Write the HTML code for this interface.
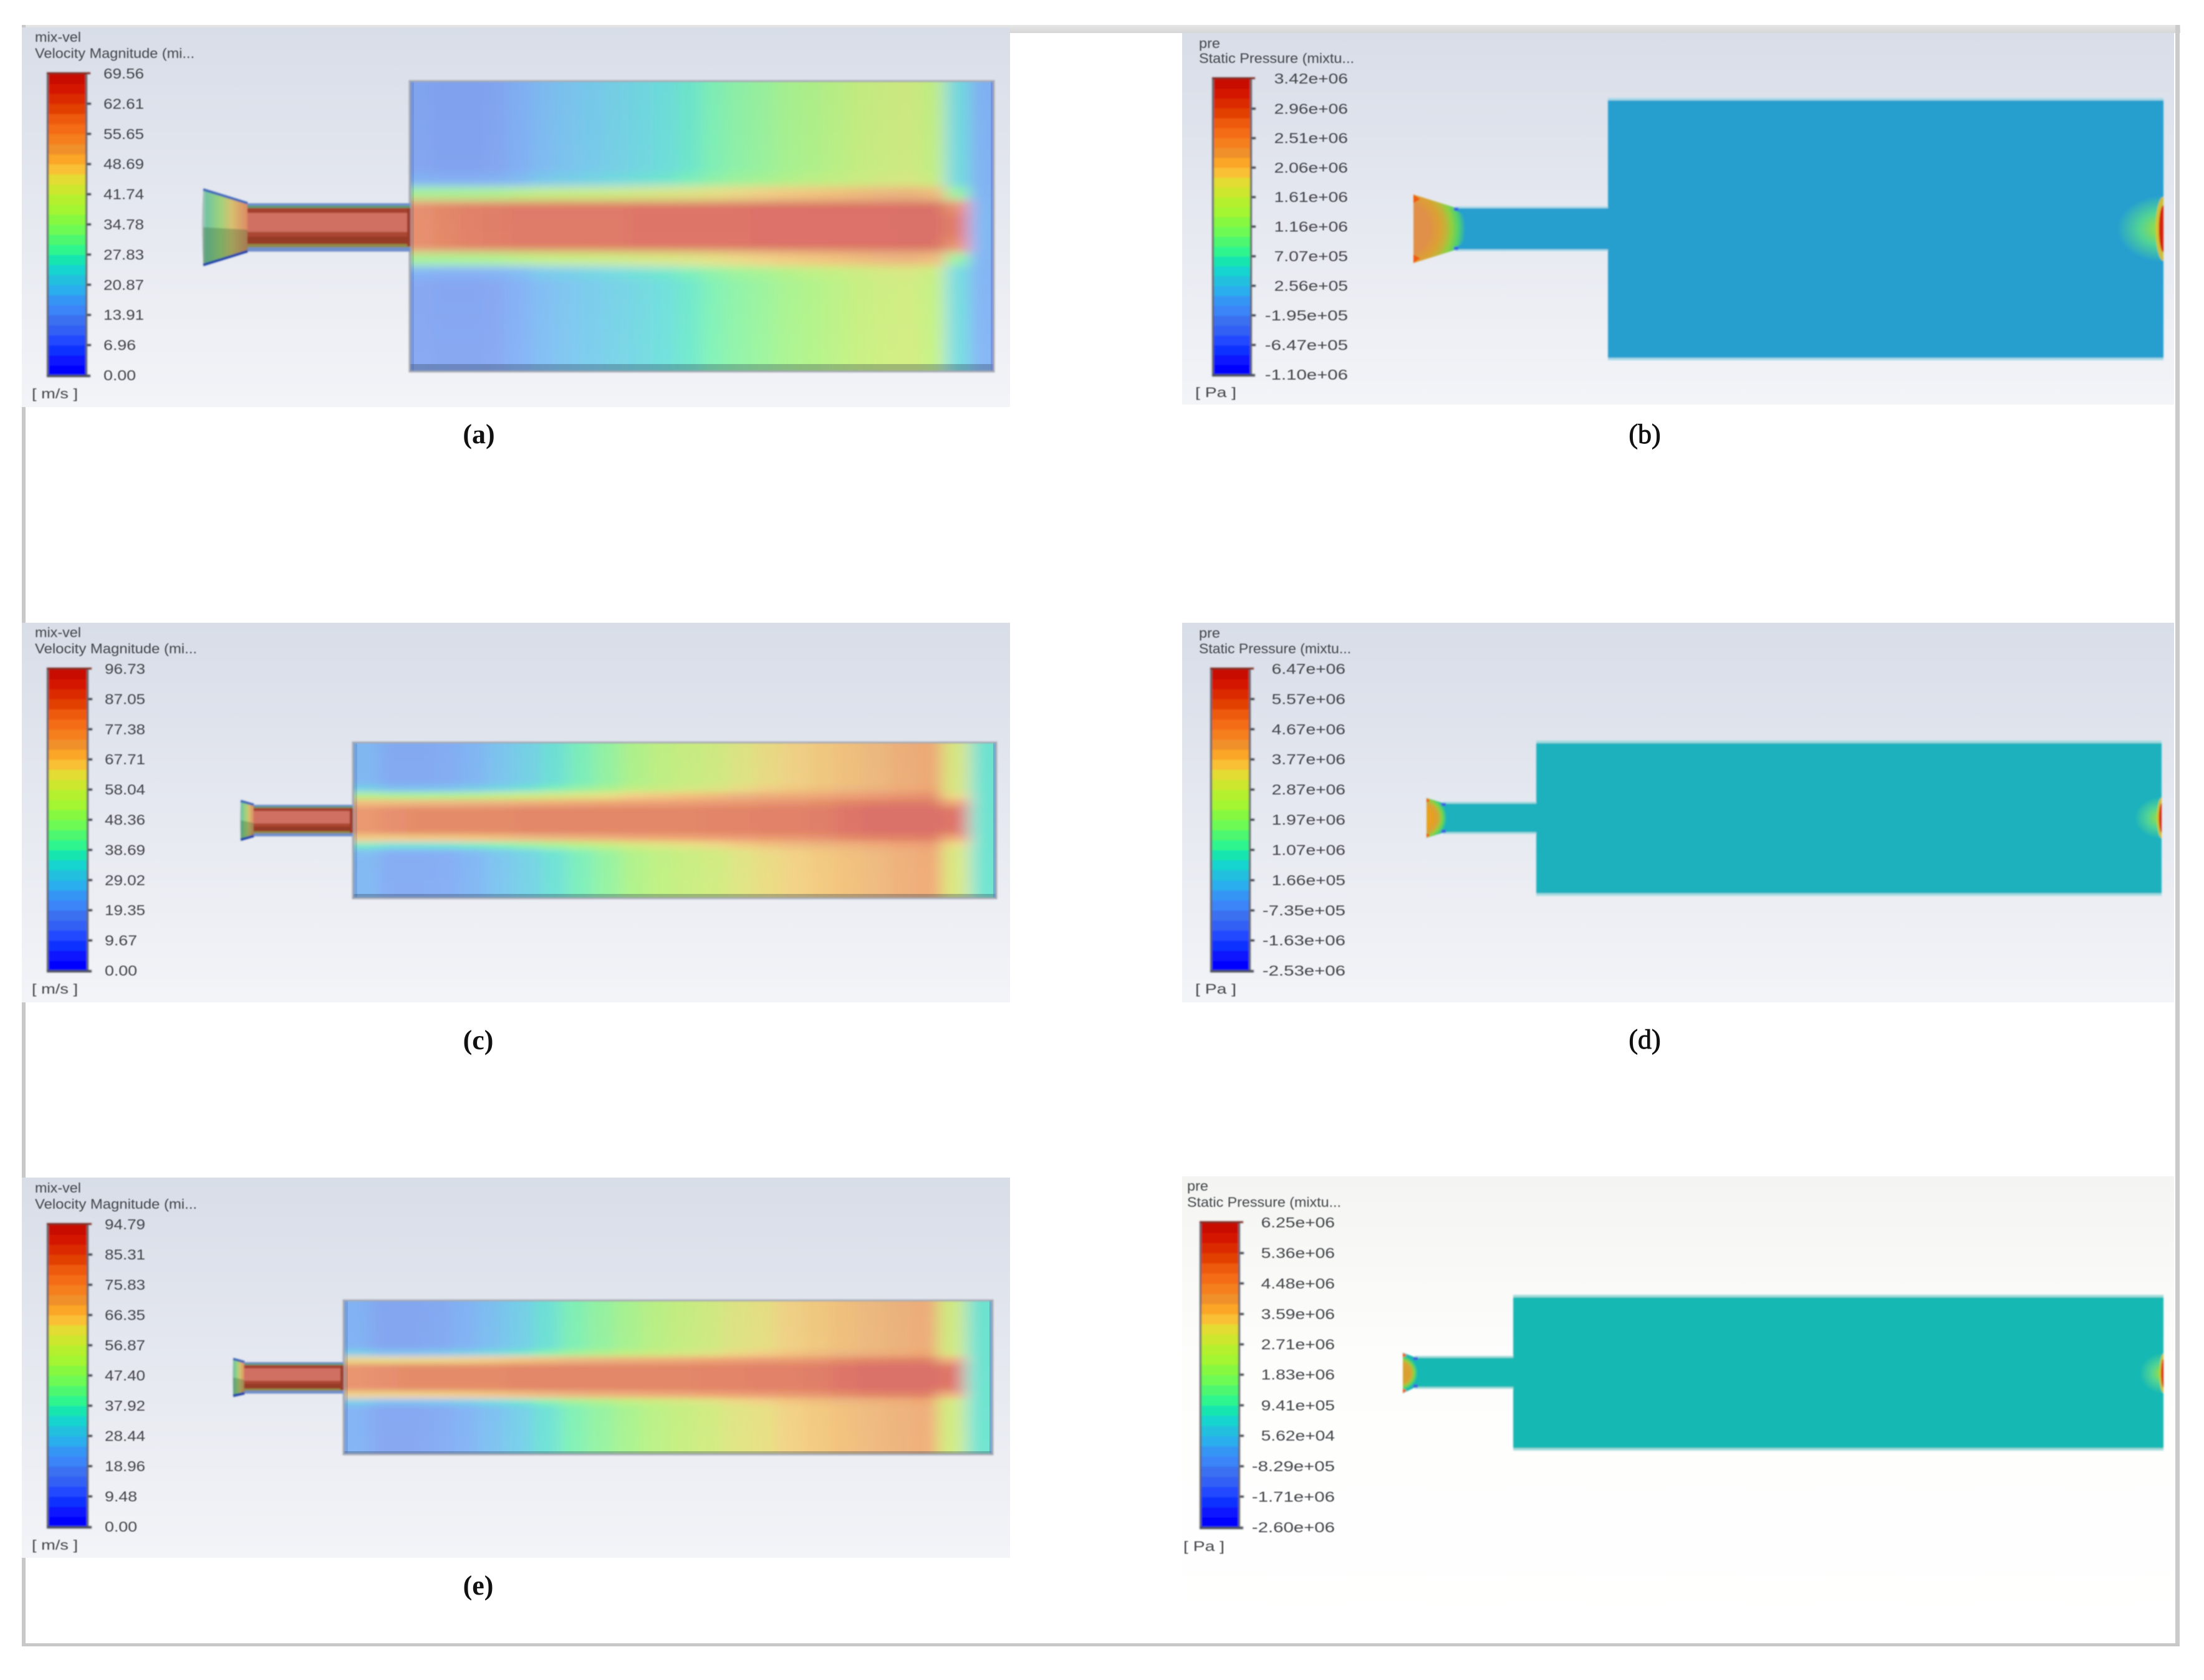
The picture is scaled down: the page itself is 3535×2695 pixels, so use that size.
<!DOCTYPE html>
<html lang="en">
<head>
<meta charset="utf-8">
<title>Velocity and static pressure contours</title>
<style>
html,body{margin:0;padding:0;background:#fff;}
svg{display:block;}
text{font-family:"Liberation Sans",sans-serif;fill:#44464c;}
.caption{font-family:"Liberation Serif",serif;font-size:44px;fill:#111;text-anchor:middle;}
.thin{stroke:#111;stroke-width:0.9px;}
</style>
</head>
<body>
<svg id="figure" xmlns="http://www.w3.org/2000/svg" width="3535" height="2695" viewBox="0 0 3535 2695">
<defs>
<linearGradient id="panelBg" x1="0" y1="0" x2="0" y2="1"><stop offset="0" stop-color="#d8dde8"/><stop offset="1" stop-color="#f3f4f8"/></linearGradient>
<linearGradient id="panelBgF" x1="0" y1="0" x2="0" y2="1"><stop offset="0" stop-color="#f4f4f2"/><stop offset="0.4" stop-color="#fdfdfc"/><stop offset="1" stop-color="#ffffff"/></linearGradient>
<linearGradient id="topBand" x1="0" y1="0" x2="0" y2="1"><stop offset="0" stop-color="#e6e6e6"/><stop offset="1" stop-color="#d6d6d6"/></linearGradient>
<linearGradient id="velNozzle" x1="0" y1="0" x2="1" y2="0"><stop offset="0" stop-color="#b9c4bf"/><stop offset="0.1" stop-color="#72c4a0"/><stop offset="0.4" stop-color="#9ed27c"/><stop offset="0.65" stop-color="#d6c070"/><stop offset="1" stop-color="#dd8a62"/></linearGradient>
<filter id="blurText" x="-5%" y="-20%" width="110%" height="140%"><feGaussianBlur stdDeviation="0.9"/></filter>
<filter id="blurSmall" x="-10%" y="-10%" width="120%" height="120%"><feGaussianBlur stdDeviation="1.2"/></filter>
<filter id="blurField" x="-10%" y="-20%" width="120%" height="140%"><feGaussianBlur stdDeviation="12 7"/></filter>
<filter id="blurFieldFine" x="-10%" y="-20%" width="120%" height="140%"><feGaussianBlur stdDeviation="12 4.5"/></filter>
</defs>
<rect x="0" y="0" width="3535" height="2695" fill="#ffffff"/>
<rect x="35" y="40" width="3462" height="13" fill="url(#topBand)"/>
<rect x="35" y="40" width="6" height="2601" fill="#c8c8c8"/>
<rect x="3489" y="40" width="7" height="2601" fill="#cbcbcb"/>
<rect x="35" y="2636" width="3461" height="5" fill="#c8c8c8"/>
<rect x="1620" y="53" width="276" height="3" fill="#ffffff"/>
<text class="caption" x="768" y="711" font-weight="bold">(a)</text>
<text class="caption thin" x="2638" y="711">(b)</text>
<text class="caption" x="767" y="1683" font-weight="bold">(c)</text>
<text class="caption thin" x="2638" y="1682">(d)</text>
<text class="caption" x="767" y="2558" font-weight="bold">(e)</text>
<text class="caption thin" x="2634" y="2558">(f)</text>
</svg>
<script>
// Shared colour legend, listed from the bottom of the bar (minimum) to the top (maximum).
const legendColors = ['#0000ff','#0818ff','#1030ff','#2048ff','#3060f5','#3a70f0','#3a85f8','#3495f5','#2baeed','#20c0de','#19d4cf','#19e5b0','#2ff58e','#4ef870','#6efa54','#86f83f','#a4f531','#b5f02e','#cde62e','#e3dc32','#f9c035','#fba626','#f0902a','#f57f1f','#f56c14','#ee5a10','#e24000','#dc2c00','#d41400','#c80c00'];

// Tick labels printed beside each colour bar.
const ticksA = ['69.56','62.61','55.65','48.69','41.74','34.78','27.83','20.87','13.91','6.96','0.00'];
const ticksB = ['3.42e+06','2.96e+06','2.51e+06','2.06e+06','1.61e+06','1.16e+06','7.07e+05','2.56e+05','-1.95e+05','-6.47e+05','-1.10e+06'];
const ticksC = ['96.73','87.05','77.38','67.71','58.04','48.36','38.69','29.02','19.35','9.67','0.00'];
const ticksD = ['6.47e+06','5.57e+06','4.67e+06','3.77e+06','2.87e+06','1.97e+06','1.07e+06','1.66e+05','-7.35e+05','-1.63e+06','-2.53e+06'];
const ticksE = ['94.79','85.31','75.83','66.35','56.87','47.40','37.92','28.44','18.96','9.48','0.00'];
const ticksF = ['6.25e+06','5.36e+06','4.48e+06','3.59e+06','2.71e+06','1.83e+06','9.41e+05','5.62e+04','-8.29e+05','-1.71e+06','-2.60e+06'];

// Normalised velocity away from the jet, by chamber column (left to right).
const wallA = [.18,.17,.17,.18,.21,.25,.27,.29,.31,.33,.35,.38,.42,.45,.47,.50,.52,.54,.57,.59,.60,.56,.34,.22];
const wallC = [.24,.19,.19,.20,.23,.27,.31,.36,.41,.46,.52,.55,.58,.60,.64,.67,.69,.71,.73,.75,.78,.80,.62,.37];
const wallE = [.22,.18,.18,.19,.22,.26,.30,.36,.42,.46,.50,.54,.57,.60,.64,.66,.69,.71,.73,.75,.77,.79,.60,.37];

// Normalised velocity on the jet axis, by chamber column.
const coreA = [.88,.90,.92,.93,.94,.94,.94,.94,.94,.95,.95,.95,.95,.95,.96,.96,.96,.96,.96,.96,.97,.97,.93,.24];
const coreC = [.86,.88,.89,.89,.89,.89,.90,.90,.90,.90,.90,.90,.90,.91,.91,.92,.92,.93,.95,.97,.97,.97,.95,.37];
const coreE = [.87,.88,.89,.89,.89,.89,.90,.90,.90,.90,.90,.90,.90,.91,.91,.92,.92,.93,.95,.97,.97,.97,.95,.37];

// Share of the jet velocity seen at each chamber row (top to bottom).
const jetRowsA = [0,0,0,0,0,0,0,.05,.45,1,1,1,1,.45,.05,0,0,0,0,0,0,0];
const jetRowsC = [0,0,0,0,0,0,.10,.45,.80,1,1,1,1,.75,.25,.03,0,0,0,0,0,0];
const jetRowsE = [0,0,0,0,0,0,0,.12,.70,1,1,1,1,.72,.12,0,0,0,0,0,0,0];

// Slightly narrower row profile used by the jet tip near the outlet wall.
const tipRowsA = [0,0,0,0,0,0,0,0,.2,.9,1,1,.9,.2,0,0,0,0,0,0,0,0];
const tipRowsC = [0,0,0,0,0,0,0,.15,.55,.95,1,1,.95,.55,.15,0,0,0,0,0,0,0];
const tipRowsE = [0,0,0,0,0,0,0,.05,.5,.95,1,1,.95,.5,.05,0,0,0,0,0,0,0];

const svgNS = 'http://www.w3.org/2000/svg';
const figure = document.getElementById('figure');
const defs = figure.querySelector('defs');

function make(tag, attrs, parent) {
  const node = document.createElementNS(svgNS, tag);
  for (const key in attrs) node.setAttribute(key, attrs[key]);
  parent.appendChild(node);
  return node;
}
function hexRgb(h) {
  return [parseInt(h.substr(1, 2), 16), parseInt(h.substr(3, 2), 16), parseInt(h.substr(5, 2), 16)];
}
function colorOf(v) {
  const n = legendColors.length - 1;
  const pos = Math.max(0, Math.min(n, v * n));
  const i = Math.min(n - 1, Math.floor(pos));
  const a = hexRgb(legendColors[i]), b = hexRgb(legendColors[i + 1]);
  const t = pos - i;
  return 'rgb(' + a.map(function (c, k) { return Math.round(c + t * (b[k] - c)); }).join(',') + ')';
}

function drawLegend(group, o) {
  const [x0, y0, x1, y1] = o.bar;
  const bandH = (y1 - y0) / legendColors.length;
  const legend = make('g', {filter: 'url(#blurSmall)'}, group);
  
  
  legendColors.forEach(function (c, i) {
    const band = make('rect', {x: x0, y: y1 - (i + 1) * bandH, width: x1 - x0, height: bandH + 0.6, fill: c}, legend);
    
    
  });
  const leftEdge = make('rect', {x: x0 - 1, y: y0, width: 3, height: y1 - y0, fill: '#5f6268'}, legend);
  
  
  const rightEdge = make('rect', {x: x1 - 2, y: y0, width: 3, height: y1 - y0, fill: '#5f6268'}, legend);
  
  
  const capTop = make('rect', {x: x0 - 1, y: y0 - 2, width: x1 - x0 + 7, height: 3, fill: '#7a2a22'}, legend);
  
  
  const capBottom = make('rect', {x: x0 - 1, y: y1 - 1, width: x1 - x0 + 7, height: 4, fill: '#4c4f5a'}, legend);
  
  

  const values = o.ticks.map(Number);
  const vMax = Math.max.apply(null, values);
  const vMin = Math.min.apply(null, values);
  const yAxis = function (v) { return y0 + (vMax - v) / (vMax - vMin) * (y1 - y0); };

  const labels = make('g', {filter: 'url(#blurText)'}, group);
  
  
  o.ticks.forEach(function (label, i) {
    const y = yAxis(values[i]);
    if (i > 0 && i < o.ticks.length - 1) {
      const tick = make('rect', {x: x1 + 1, y: y - 1.5, width: 6, height: 3, fill: '#2c2e38'}, legend);
      
      
    }
    const anchorEnd = o.labelRight !== undefined;
    const t = make('text', {
      x: anchorEnd ? o.labelRight : o.labelX, y: y + 8,
      'font-size': 23,
      'text-anchor': anchorEnd ? 'end' : 'start',
      textLength: label.length * (anchorEnd ? 14.8 : 13),
      lengthAdjust: 'spacingAndGlyphs'
    }, labels);
    
    
    t.textContent = label;
  });
  const line1 = make('text', {x: o.titleX, y: o.titleY1 + 8, 'font-size': 22, textLength: o.line1Len, lengthAdjust: 'spacingAndGlyphs'}, labels);
  
  
  line1.textContent = o.line1;
  const line2 = make('text', {x: o.titleX, y: o.titleY2 + 8, 'font-size': 22, textLength: o.line2Len, lengthAdjust: 'spacingAndGlyphs'}, labels);
  
  
  line2.textContent = o.line2;
  const unit = make('text', {x: o.unitX, y: o.unitY + 8, 'font-size': 22, textLength: o.unitLen, lengthAdjust: 'spacingAndGlyphs'}, labels);
  
  
  unit.textContent = o.unit;
}

function drawPanelBackground(group, o) {
  const [x0, y0, x1, y1] = o.panel;
  const bg = make('rect', {x: x0, y: y0, width: x1 - x0, height: y1 - y0, fill: o.bgFill || 'url(#panelBg)'}, group);
  
  
}

function drawVelocityPanel(o) {
  const group = make('g', {}, figure);
  
  
  drawPanelBackground(group, o);
  drawLegend(group, o);

  const [cx0, cy0, cx1, cy1] = o.chamber;
  const clip = make('clipPath', {id: 'chamber-' + o.id}, defs);
  make('rect', {x: cx0, y: cy0, width: cx1 - cx0, height: cy1 - cy0}, clip);
  const clipped = make('g', {'clip-path': 'url(#chamber-' + o.id + ')'}, group);
  
  
  const field = make('g', {opacity: 0.56, filter: 'url(#' + o.blur + ')'}, clipped);
  
  

  const cols = o.wall.length, rows = o.jetRows.length;
  const cw = (cx1 - cx0) / cols, rh = (cy1 - cy0) / rows;
  const pad = 80;
  for (let r = 0; r < rows; r++) {
    for (let c = 0; c < cols; c++) {
      const weight = c >= cols - 2 ? o.tipRows[r] : o.jetRows[r];
      const v = o.wall[c] + weight * (o.core[c] - o.wall[c]);
      const left = c === 0 ? cx0 - pad : cx0 + c * cw;
      const right = c === cols - 1 ? cx1 + pad : cx0 + (c + 1) * cw + 1;
      const top = r === 0 ? cy0 - pad : cy0 + r * rh;
      const bottom = r === rows - 1 ? cy1 + pad : cy0 + (r + 1) * rh + 1;
      const cell = make('rect', {x: left, y: top, width: right - left, height: bottom - top, fill: colorOf(v)}, field);
      
      
    }
  }
  const strip = make('rect', {x: cx0, y: cy1 - o.strip, width: cx1 - cx0, height: o.strip, fill: '#2a3a50', opacity: 0.3}, clipped);
  
  
  const wallL = make('rect', {x: cx0, y: cy0, width: 7, height: cy1 - cy0, fill: '#3a4f90', opacity: 0.2}, clipped);
  
  
  const wallR = make('rect', {x: cx1 - 5, y: cy0, width: 5, height: cy1 - cy0, fill: '#6a70d8', opacity: 0.5}, clipped);
  
  

  const outline = make('rect', {x: cx0, y: cy0, width: cx1 - cx0, height: cy1 - cy0, fill: 'none', stroke: '#a8acb6', 'stroke-width': 3, filter: 'url(#blurSmall)'}, group);
  
  

  const [px0, py0, px1, py1] = o.pipe;
  const pipe = make('g', {filter: 'url(#blurSmall)'}, group);
  
  
  const bandStops = [0, .05, .10, .20, .60, .70, .85, .92, 1];
  const bandFills = ['#6f8fcc', '#5f9a72', '#a5402f', '#cf6f62', '#aa4633', '#963a28', '#8f8a45', '#6f8fcc'];
  bandFills.forEach(function (fill, i) {
    const b = make('rect', {x: px0 - 4, y: py0 + bandStops[i] * (py1 - py0), width: px1 - px0 + 4, height: (bandStops[i + 1] - bandStops[i]) * (py1 - py0) + 0.6, fill: fill}, pipe);
    
    
  });
  const pipeEnd = make('rect', {x: px1 - 5, y: py0 + .1 * (py1 - py0), width: 5, height: .8 * (py1 - py0), fill: '#9a3a2a'}, pipe);
  
  

  const [nx0, ny0, ny1] = o.nozzle;
  const mid = (ny0 + ny1) / 2;
  const nozzleGroup = make('g', {filter: 'url(#blurSmall)'}, group);
  
  
  const bulgeX = nx0 - Math.max(2, .06 * (px0 - nx0));
  const nozzlePath = 'M' + nx0 + ' ' + ny0 + ' L' + px0 + ' ' + py0 + ' L' + px0 + ' ' + py1 + ' L' + nx0 + ' ' + ny1 + ' Q' + bulgeX + ' ' + mid + ' ' + nx0 + ' ' + ny0 + ' Z';
  const nozzle = make('path', {d: nozzlePath, fill: 'url(#velNozzle)'}, nozzleGroup);
  
  
  const shade = make('polygon', {points: nx0 + ',' + mid + ' ' + px0 + ',' + (mid + 4) + ' ' + px0 + ',' + py1 + ' ' + nx0 + ',' + ny1, fill: '#2c5a30', opacity: 0.3}, nozzleGroup);
  
  
  const edgeTop = make('line', {x1: nx0, y1: ny0, x2: px0, y2: py0, stroke: '#3f66b8', 'stroke-width': 4}, nozzleGroup);
  
  
  const edgeBottom = make('line', {x1: nx0, y1: ny1, x2: px0, y2: py1, stroke: '#1c3fa8', 'stroke-width': 4}, nozzleGroup);
  
  
}

function drawPressurePanel(o) {
  const group = make('g', {}, figure);
  
  
  drawPanelBackground(group, o);
  drawLegend(group, o);

  const [cx0, cy0, cx1, cy1] = o.chamber;
  const [px0, py0, px1, py1] = o.pipe;
  const [nx0, ny0, ny1] = o.nozzle;
  const body = make('g', {filter: 'url(#blurSmall)'}, group);
  
  

  const pipe = make('rect', {x: px0, y: py0, width: px1 - px0 + 1, height: py1 - py0, fill: o.fill}, body);
  
  
  const pipeTop = make('rect', {x: px0, y: py0 - 2, width: px1 - px0, height: 3, fill: o.edge}, body);
  
  
  const pipeBottom = make('rect', {x: px0, y: py1 - 1, width: px1 - px0, height: 3, fill: o.edge}, body);
  
  

  const chamber = make('rect', {x: cx0, y: cy0, width: cx1 - cx0, height: cy1 - cy0, fill: o.fill}, body);
  
  
  const chamberTop = make('rect', {x: cx0, y: cy0 - 2, width: cx1 - cx0, height: 4, fill: o.edge}, body);
  
  
  const chamberBottom = make('rect', {x: cx0, y: cy1 - 2, width: cx1 - cx0, height: 4, fill: o.edge}, body);
  
  

  // Outlet hot spot: soft green halo, then elongated yellow and red contours against the wall.
  const clip = make('clipPath', {id: 'hotclip-' + o.id}, defs);
  make('rect', {x: cx0, y: cy0, width: cx1 - cx0, height: cy1 - cy0}, clip);
  const hotGroup = make('g', {'clip-path': 'url(#hotclip-' + o.id + ')'}, body);
  
  
  const hotId = 'hot-' + o.id;
  const hot = make('radialGradient', {id: hotId, cx: 0.5, cy: 0.5, r: 0.5}, defs);
  [[0, '#b4d83c'], [0.18, '#8cdc50'], [0.5, '#52d494'], [1, o.fill]].forEach(function (s) {
    make('stop', {offset: s[0], 'stop-color': s[1]}, hot);
  });
  const halo = make('ellipse', {cx: cx1, cy: o.hotY, rx: o.hotRx, ry: o.hotRy, fill: 'url(#' + hotId + ')'}, hotGroup);
  
  
  const ring = make('ellipse', {cx: cx1, cy: o.hotY, rx: o.hotRx * .17, ry: o.hotRy * .95, fill: '#dcc030', opacity: 0.9}, hotGroup);
  
  
  const core = make('ellipse', {cx: cx1, cy: o.hotY, rx: o.hotRx * .1, ry: o.hotRy * .7, fill: '#d42410'}, hotGroup);
  
  

  // Inlet nozzle
  const w = px0 - nx0;
  const gradId = 'noz-' + o.id;
  const grad = make('radialGradient', {id: gradId, gradientUnits: 'userSpaceOnUse', cx: nx0 - .25 * w, cy: (ny0 + ny1) / 2, r: 1.5 * w}, defs);
  [[0, o.nozzleColor], [.42, o.nozzleColor], [.58, '#dca034'], [.68, '#c4b238'], [.78, '#8fd040'], [.89, '#4fd070'], [1, o.fill]].forEach(function (s) {
    make('stop', {offset: s[0], 'stop-color': s[1]}, grad);
  });
  const bulge = make('ellipse', {cx: px0, cy: (py0 + py1) / 2, rx: .28 * w, ry: .42 * (py1 - py0), fill: 'url(#' + gradId + ')'}, body);
  
  
  const nozzle = make('polygon', {points: nx0 + ',' + ny0 + ' ' + px0 + ',' + py0 + ' ' + px0 + ',' + py1 + ' ' + nx0 + ',' + ny1, fill: 'url(#' + gradId + ')'}, body);
  
  
  const size = Math.max(6, .16 * w);
  const redTop = make('polygon', {points: nx0 + ',' + ny0 + ' ' + (nx0 + size) + ',' + (ny0 + size * .7) + ' ' + nx0 + ',' + (ny0 + size * 1.3), fill: '#f05a10'}, body);
  
  
  const redBottom = make('polygon', {points: nx0 + ',' + ny1 + ' ' + (nx0 + size) + ',' + (ny1 - size * .7) + ' ' + nx0 + ',' + (ny1 - size * 1.3), fill: '#f05a10'}, body);
  
  
  const blueTop = make('rect', {x: px0 - 2, y: py0, width: 7, height: 5, fill: '#3a5fe0'}, body);
  
  
  const blueBottom = make('rect', {x: px0 - 2, y: py1 - 5, width: 7, height: 5, fill: '#3a5fe0'}, body);
  
  
}

const velocityText = {line1: 'mix-vel', line1Len: 74, line2: 'Velocity Magnitude (mi...', line2Len: 256, unit: '[ m/s ]', unitLen: 74, titleX: 56, unitX: 51};
const pressureText = {line1: 'pre', line1Len: 34, line2: 'Static Pressure (mixtu...', unit: '[ Pa ]', unitLen: 66};

drawVelocityPanel(Object.assign({}, velocityText, {
  id: 'a', panel: [35, 44, 1620, 653], bar: [76, 118, 139, 602], labelX: 166, ticks: ticksA,
  titleY1: 59, titleY2: 85, unitY: 631,
  chamber: [657, 130, 1594, 596], pipe: [397, 326, 658, 403], nozzle: [326, 304, 425],
  wall: wallA, core: coreA, jetRows: jetRowsA, tipRows: tipRowsA, strip: 12, blur: 'blurField'
}));
drawPressurePanel(Object.assign({}, pressureText, {
  id: 'b', panel: [1896, 53, 3487, 649], bar: [1945, 126, 2007, 601], labelRight: 2162, ticks: ticksB,
  titleX: 1923, unitX: 1917, titleY1: 69, titleY2: 93, unitY: 629, line2Len: 249,
  chamber: [2579, 159, 3470, 576], pipe: [2334, 333, 2579, 401], nozzle: [2267, 312, 422],
  fill: '#259fcf', edge: '#a9d9e8', nozzleColor: '#e09048', hotY: 367, hotRx: 75, hotRy: 54
}));
drawVelocityPanel(Object.assign({}, velocityText, {
  id: 'c', line2Len: 260, panel: [35, 999, 1620, 1608], bar: [76, 1073, 141, 1557], labelX: 168, ticks: ticksC,
  titleY1: 1014, titleY2: 1040, unitY: 1586,
  chamber: [566, 1191, 1598, 1441], pipe: [407, 1291, 566, 1341], nozzle: [386, 1285, 1347],
  wall: wallC, core: coreC, jetRows: jetRowsC, tipRows: tipRowsC, strip: 7, blur: 'blurFieldFine'
}));
drawPressurePanel(Object.assign({}, pressureText, {
  id: 'd', panel: [1896, 999, 3487, 1608], bar: [1942, 1073, 2005, 1557], labelRight: 2158, ticks: ticksD,
  titleX: 1923, unitX: 1917, titleY1: 1015, titleY2: 1040, unitY: 1586, line2Len: 244,
  chamber: [2464, 1190, 3467, 1435], pipe: [2314, 1288, 2464, 1336], nozzle: [2288, 1280, 1344],
  fill: '#1bb1bd', edge: '#a4dce0', nozzleColor: '#e8a020', hotY: 1312, hotRx: 44, hotRy: 34
}));
drawVelocityPanel(Object.assign({}, velocityText, {
  id: 'e', line2Len: 260, panel: [35, 1889, 1620, 2499], bar: [76, 1964, 141, 2449], labelX: 168, ticks: ticksE,
  titleY1: 1905, titleY2: 1931, unitY: 2478,
  chamber: [551, 2086, 1592, 2333], pipe: [392, 2185, 551, 2235], nozzle: [374, 2180, 2239],
  wall: wallE, core: coreE, jetRows: jetRowsE, tipRows: tipRowsE, strip: 5, blur: 'blurFieldFine'
}));
drawPressurePanel(Object.assign({}, pressureText, {
  id: 'f', panel: [1896, 1887, 3487, 2620], bgFill: 'url(#panelBgF)', bar: [1925, 1961, 1988, 2450], labelRight: 2141, ticks: ticksF,
  titleX: 1904, unitX: 1898, titleY1: 1902, titleY2: 1928, unitY: 2480, line2Len: 247,
  chamber: [2427, 2079, 3470, 2325], pipe: [2269, 2177, 2427, 2226], nozzle: [2250, 2170, 2235],
  fill: '#17b8b3', edge: '#a4dedc', nozzleColor: '#d8a030', hotY: 2203, hotRx: 38, hotRy: 33
}));
</script>
</body>
</html>
